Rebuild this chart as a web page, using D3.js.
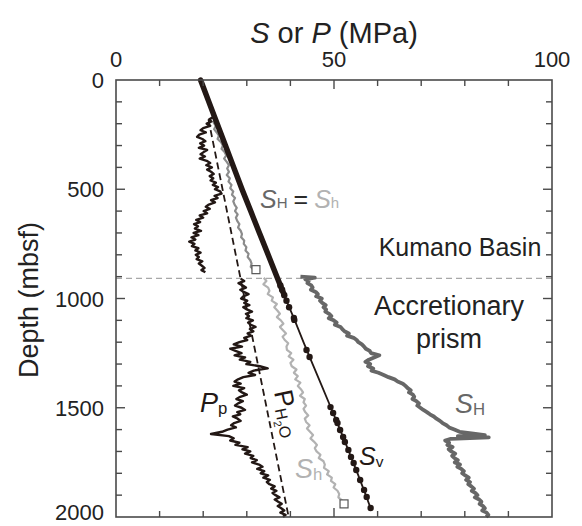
<!DOCTYPE html>
<html>
<head>
<meta charset="utf-8">
<script src="https://cdn.jsdelivr.net/npm/d3@7"></script>
<style>
  html, body { margin: 0; padding: 0; background: #fff; }
  svg { display: block; font-family: "Liberation Sans", Arial, Helvetica, sans-serif; }
</style>
</head>
<body>
<svg id="chart" width="582" height="526"></svg>
<script>
// Stress and pore pressure profiles versus depth below seafloor (MPa, mbsf)

// Vertical stress S_v
const svDepth = [0, 100, 200, 300, 400, 500, 600, 700, 800, 900, 980, 1000, 1100, 1200, 1300, 1400, 1500, 1600, 1700, 1800, 1900, 1960];
const svMPa   = [19.4, 21.3, 23.2, 25.1, 27.0, 28.9, 30.9, 32.9, 34.9, 36.9, 38.5, 38.9, 41.0, 43.0, 45.1, 47.2, 49.3, 51.4, 53.4, 55.4, 57.3, 58.4];
// Discrete S_v samples in the accretionary prism
const svDotDepth = [940, 960, 985, 1010, 1040, 1089, 1098, 1236, 1268, 1497, 1524, 1556, 1570, 1602, 1634, 1657, 1693, 1725, 1753, 1785, 1831, 1876, 1908, 1959];
const svDotMPa   = [37.7, 38.1, 38.6, 39.1, 39.7, 40.8, 40.9, 43.7, 44.4, 49.2, 49.8, 50.5, 50.8, 51.4, 52.1, 52.5, 53.3, 53.9, 54.5, 55.1, 56.0, 56.9, 57.5, 58.4];

// Hydrostatic pressure P_H2O
const phDepth = [180, 2000];
const phMPa   = [21.2, 39.6];

// Pore pressure P_p, Kumano Basin
const ppBasinDepth = [170, 180, 190, 200, 210, 220, 230, 240, 250, 260, 270, 280, 290, 300, 310, 320, 330, 340, 350, 360, 370, 380, 390, 400, 410, 420, 430, 440, 450, 460, 470, 480, 490, 500, 510, 520, 530, 540, 550, 560, 570, 580, 590, 600, 610, 620, 630, 640, 650, 660, 670, 680, 690, 700, 710, 720, 730, 740, 750, 760, 770, 780, 790, 800, 810, 820, 830, 840, 850, 860, 870, 880];
const ppBasinMPa   = [22.3, 21.4, 21.9, 20.8, 21.6, 20.0, 19.4, 20.6, 19.1, 18.6, 19.8, 20.5, 19.3, 20.2, 19.0, 20.9, 20.1, 19.4, 20.4, 19.2, 20.8, 21.6, 20.7, 22.0, 20.9, 21.8, 22.4, 21.5, 22.3, 21.7, 22.9, 22.2, 23.4, 22.7, 23.9, 24.2, 22.6, 23.3, 21.8, 22.7, 21.3, 20.6, 21.5, 20.1, 20.9, 19.2, 20.0, 18.4, 19.3, 17.9, 18.8, 18.1, 19.5, 17.8, 18.9, 17.3, 18.2, 16.8, 18.0, 17.4, 18.9, 18.2, 19.4, 18.3, 19.0, 18.5, 19.8, 19.0, 19.7, 20.3, 19.6, 20.5];

// Pore pressure P_p, accretionary prism
const ppPrismDepth = [910, 920, 930, 940, 950, 960, 970, 980, 990, 1000, 1010, 1020, 1030, 1040, 1050, 1060, 1070, 1080, 1090, 1100, 1110, 1120, 1130, 1140, 1150, 1160, 1170, 1180, 1190, 1200, 1210, 1220, 1230, 1240, 1250, 1260, 1270, 1280, 1290, 1300, 1310, 1320, 1330, 1340, 1350, 1360, 1370, 1380, 1390, 1400, 1410, 1420, 1430, 1440, 1450, 1460, 1470, 1480, 1490, 1500, 1510, 1520, 1530, 1540, 1550, 1560, 1570, 1580, 1590, 1600, 1610, 1620, 1630, 1640, 1650, 1660, 1670, 1680, 1690, 1700, 1710, 1720, 1730, 1740, 1750, 1760, 1770, 1780, 1790, 1800, 1810, 1820, 1830, 1840, 1850, 1860, 1870, 1880, 1890, 1900, 1910, 1920, 1930, 1940, 1950, 1960, 1970, 1980, 1990, 2000];
const ppPrismMPa   = [28.6, 29.4, 28.1, 29.0, 29.8, 28.5, 29.3, 30.4, 29.2, 28.7, 30.1, 29.4, 30.6, 29.2, 30.0, 31.2, 29.8, 30.5, 29.9, 31.4, 30.3, 30.9, 32.0, 30.7, 31.5, 30.2, 31.0, 29.4, 30.1, 28.3, 27.0, 28.9, 26.2, 27.4, 28.8, 27.2, 29.6, 28.4, 30.8, 29.9, 33.0, 34.8, 31.6, 30.4, 31.9, 29.2, 28.0, 27.2, 28.6, 26.9, 29.4, 28.2, 28.9, 30.0, 28.5, 27.6, 29.1, 28.0, 27.3, 28.8, 29.6, 27.8, 28.5, 26.8, 27.9, 28.6, 27.1, 26.4, 27.5, 25.6, 24.3, 21.8, 25.9, 27.0, 26.2, 28.3, 27.4, 30.2, 29.0, 30.8, 29.6, 31.5, 30.9, 32.3, 31.2, 32.8, 33.6, 32.4, 34.0, 33.2, 34.9, 33.8, 35.3, 34.6, 35.2, 36.4, 35.6, 36.8, 35.9, 36.6, 37.5, 36.4, 37.2, 38.0, 37.1, 37.9, 38.6, 37.7, 38.9, 38.3];

// S_H = S_h, Kumano Basin
const sBasinDepth = [180, 195, 210, 225, 240, 255, 270, 285, 300, 315, 330, 345, 360, 375, 390, 405, 420, 435, 450, 465, 480, 495, 510, 525, 540, 555, 570, 585, 600, 615, 630, 645, 660, 675, 690, 705, 720, 735, 750, 765, 780, 795, 810, 825, 840, 855, 870, 885];
const sBasinMPa   = [22.6, 22.4, 22.9, 22.5, 23.1, 23.6, 23.3, 24.1, 24.5, 24.2, 24.9, 25.3, 24.8, 25.4, 25.9, 25.5, 25.9, 25.4, 26.1, 25.8, 26.5, 26.2, 26.9, 26.6, 27.3, 26.9, 27.2, 27.7, 27.3, 27.9, 27.5, 27.8, 28.3, 28.0, 28.6, 28.9, 28.7, 29.4, 29.3, 29.9, 29.7, 30.4, 30.2, 30.8, 31.1, 30.9, 31.6, 32.0];

// Minimum horizontal stress S_h, accretionary prism
const shDepth = [905, 920, 935, 950, 965, 980, 995, 1010, 1025, 1040, 1055, 1070, 1085, 1100, 1115, 1130, 1145, 1160, 1175, 1190, 1205, 1220, 1235, 1250, 1265, 1280, 1295, 1310, 1325, 1340, 1355, 1370, 1385, 1400, 1415, 1430, 1445, 1460, 1475, 1490, 1505, 1520, 1535, 1550, 1565, 1580, 1595, 1610, 1625, 1640, 1655, 1670, 1685, 1700, 1715, 1730, 1745, 1760, 1775, 1790, 1805, 1820, 1835, 1850, 1865, 1880, 1895, 1910, 1925, 1940];
const shMPa   = [33.9, 34.5, 33.8, 34.9, 35.2, 34.8, 36.0, 35.7, 36.9, 36.3, 37.0, 37.6, 36.9, 37.8, 38.4, 37.6, 38.3, 39.0, 38.2, 38.7, 39.5, 39.1, 39.2, 40.2, 39.6, 40.7, 40.0, 40.3, 41.4, 40.8, 41.7, 41.1, 42.3, 41.7, 42.4, 42.9, 42.2, 43.3, 43.0, 43.6, 43.0, 43.4, 44.1, 43.3, 43.6, 44.4, 43.8, 44.5, 45.2, 44.6, 45.4, 46.1, 45.6, 46.0, 46.9, 46.5, 47.6, 47.9, 47.7, 48.8, 48.4, 49.5, 49.3, 50.3, 49.9, 50.8, 51.2, 51.0, 51.9, 52.3];

// Maximum horizontal stress S_H, accretionary prism
const sHDepth = [900, 905, 912, 920, 930, 940, 950, 960, 970, 980, 990, 1000, 1010, 1020, 1030, 1040, 1050, 1060, 1070, 1080, 1090, 1100, 1110, 1120, 1130, 1140, 1150, 1160, 1170, 1180, 1190, 1200, 1210, 1220, 1230, 1240, 1250, 1260, 1270, 1280, 1290, 1300, 1310, 1320, 1330, 1340, 1350, 1360, 1370, 1380, 1390, 1400, 1410, 1420, 1430, 1440, 1450, 1460, 1470, 1480, 1490, 1500, 1510, 1520, 1530, 1540, 1550, 1560, 1570, 1580, 1590, 1600, 1610, 1618, 1625, 1630, 1636, 1642, 1650, 1660, 1670, 1680, 1690, 1700, 1710, 1720, 1730, 1740, 1750, 1760, 1770, 1780, 1790, 1800, 1810, 1820, 1830, 1840, 1850, 1860, 1870, 1880, 1890, 1900, 1910, 1920, 1930, 1940, 1950, 1960, 1970, 1980, 1990, 2000];
const sHMPa   = [42.3, 45.6, 43.4, 44.2, 43.9, 44.8, 45.1, 44.7, 45.8, 46.3, 45.9, 47.2, 46.8, 47.3, 48.1, 47.6, 48.2, 48.0, 48.9, 49.4, 48.8, 49.9, 50.6, 50.2, 51.5, 51.9, 52.4, 53.4, 53.0, 54.5, 55.2, 55.6, 56.4, 56.9, 57.3, 58.2, 58.5, 60.4, 59.2, 58.0, 57.2, 58.3, 57.8, 59.0, 58.6, 60.2, 61.4, 62.5, 63.9, 64.6, 65.8, 66.4, 66.9, 67.6, 67.2, 68.1, 68.4, 68.0, 68.9, 69.5, 69.1, 69.8, 70.5, 71.3, 72.0, 72.9, 73.5, 74.3, 74.9, 75.8, 76.4, 77.6, 78.8, 82.0, 84.6, 78.4, 85.5, 76.8, 75.5, 76.4, 76.0, 77.2, 76.3, 76.9, 77.8, 77.1, 77.6, 78.4, 77.7, 78.9, 78.3, 79.2, 79.8, 79.4, 80.1, 80.9, 80.3, 81.2, 80.8, 81.5, 82.1, 81.6, 82.4, 82.9, 82.3, 83.3, 83.8, 83.4, 84.2, 84.6, 84.0, 85.0, 85.4, 84.9];

// Leak-off test points
const lotDepth = [868, 1940];
const lotMPa   = [32.1, 52.3];

// Basin / prism boundary depth
const boundaryDepth = [908];

// Axis ticks
const xMajorTicks = [0, 50, 100];
const xMinorTicks = [10, 20, 30, 40, 60, 70, 80, 90];
const yMajorTicks = [0, 500, 1000, 1500, 2000];
const yMinorTicks = [100, 200, 300, 400, 600, 700, 800, 900, 1100, 1200, 1300, 1400, 1600, 1700, 1800, 1900];

const zip = (d, v) => d.map((z, i) => ({ z, v: v[i] }));

const svg = d3.select("#chart");
const plotL = 116, plotR = 552, plotT = 80, plotB = 517;

const x = d3.scaleLinear().domain([0, 100]).range([plotL, plotR]);
const y = d3.scaleLinear().domain([0, 2000]).range([plotT, plotB]);

const frameColor = "#4a4a4a";
const inkColor = "#231815";
const darkGray = "#676767";
const lightGray = "#b2b2b2";
const midGray = "#8c8c8c";

const line = d3.line().x(d => x(d.v)).y(d => y(d.z));

// Boundary between Kumano Basin and accretionary prism
svg.selectAll("line.boundary").data(boundaryDepth).join("line")
  .attr("class", "boundary")
  .attr("x1", plotL).attr("x2", plotR)
  .attr("y1", d => y(d)).attr("y2", d => y(d))
  .attr("stroke", "#a8a8a8").attr("stroke-width", 1.4)
  .attr("stroke-dasharray", "6,4");

// Horizontal stresses
svg.append("path").datum(zip(sHDepth, sHMPa)).attr("d", line)
  .attr("fill", "none").attr("stroke", darkGray).attr("stroke-width", 3.8)
  .attr("stroke-linejoin", "round");
svg.append("path").datum(zip(shDepth, shMPa)).attr("d", line)
  .attr("fill", "none").attr("stroke", lightGray).attr("stroke-width", 2.2)
  .attr("stroke-linejoin", "round");
svg.append("path").datum(zip(sBasinDepth, sBasinMPa)).attr("d", line)
  .attr("fill", "none").attr("stroke", midGray).attr("stroke-width", 2.2)
  .attr("stroke-linejoin", "round");

// Hydrostatic pressure
svg.append("path").datum(zip(phDepth, phMPa)).attr("d", line)
  .attr("fill", "none").attr("stroke", inkColor).attr("stroke-width", 1.8)
  .attr("stroke-dasharray", "7,4");

// Pore pressure
[zip(ppBasinDepth, ppBasinMPa), zip(ppPrismDepth, ppPrismMPa)].forEach(seg => {
  svg.append("path").datum(seg).attr("d", line)
    .attr("fill", "none").attr("stroke", inkColor).attr("stroke-width", 2.4)
    .attr("stroke-linejoin", "round");
});

// Vertical stress: dense upper part drawn heavy, sparse lower part with samples
const svAll = zip(svDepth, svMPa);
svg.append("path").datum(svAll.filter(d => d.z <= 980)).attr("d", line)
  .attr("fill", "none").attr("stroke", inkColor).attr("stroke-width", 5.5)
  .attr("stroke-linecap", "round");
svg.append("path").datum(svAll.filter(d => d.z >= 980)).attr("d", line)
  .attr("fill", "none").attr("stroke", inkColor).attr("stroke-width", 1.8);
svg.selectAll("circle.sv").data(zip(svDotDepth, svDotMPa)).join("circle")
  .attr("class", "sv")
  .attr("cx", d => x(d.v)).attr("cy", d => y(d.z)).attr("r", 3.2)
  .attr("fill", inkColor);

// Leak-off test markers
svg.selectAll("rect.lot").data(zip(lotDepth, lotMPa)).join("rect")
  .attr("class", "lot")
  .attr("x", d => x(d.v) - 4).attr("y", d => y(d.z) - 4)
  .attr("width", 8).attr("height", 8)
  .attr("fill", "#fff").attr("stroke", "#555").attr("stroke-width", 1.2);

// Frame and inward ticks
svg.append("rect").attr("x", plotL).attr("y", plotT)
  .attr("width", plotR - plotL).attr("height", plotB - plotT)
  .attr("fill", "none").attr("stroke", frameColor).attr("stroke-width", 1.6);

const tickG = svg.append("g").attr("stroke", frameColor).attr("stroke-width", 1.4);
const xTicks = xMajorTicks.filter(t => t > 0 && t < 100).map(t => ({ t, len: 9 }))
  .concat(xMinorTicks.map(t => ({ t, len: 6 })));
xTicks.forEach(d => {
  tickG.append("line").attr("x1", x(d.t)).attr("x2", x(d.t)).attr("y1", plotT).attr("y2", plotT + d.len);
  tickG.append("line").attr("x1", x(d.t)).attr("x2", x(d.t)).attr("y1", plotB).attr("y2", plotB - d.len);
});
const yTicks = yMajorTicks.filter(t => t > 0 && t < 2000).map(t => ({ t, len: 9 }))
  .concat(yMinorTicks.map(t => ({ t, len: 6 })));
yTicks.forEach(d => {
  tickG.append("line").attr("x1", plotL).attr("x2", plotL + d.len).attr("y1", y(d.t)).attr("y2", y(d.t));
  tickG.append("line").attr("x1", plotR).attr("x2", plotR - d.len).attr("y1", y(d.t)).attr("y2", y(d.t));
});

// Tick labels
svg.selectAll("text.xl").data(xMajorTicks).join("text")
  .attr("class", "xl")
  .attr("x", d => x(d)).attr("y", 67)
  .attr("text-anchor", "middle").attr("font-size", 22).attr("fill", "#222")
  .text(d => d);
svg.selectAll("text.yl").data(yMajorTicks).join("text")
  .attr("class", "yl")
  .attr("x", 104).attr("y", d => Math.min(y(d) + 8, 520))
  .attr("text-anchor", "end").attr("font-size", 22).attr("fill", "#222")
  .text(d => d);

// Axis titles
const xt = svg.append("text").attr("x", 334).attr("y", 43)
  .attr("text-anchor", "middle").attr("font-size", 29).attr("fill", "#222");
xt.append("tspan").attr("font-style", "italic").text("S");
xt.append("tspan").text(" or ");
xt.append("tspan").attr("font-style", "italic").text("P");
xt.append("tspan").text(" (MPa)");

svg.append("text").attr("transform", "translate(38,300) rotate(-90)")
  .attr("text-anchor", "middle").attr("font-size", 27).attr("fill", "#222")
  .text("Depth (mbsf)");

// Curve labels
function subLabel(px, py, main, sub, color, size) {
  const t = svg.append("text").attr("x", px).attr("y", py)
    .attr("font-size", size).attr("fill", color);
  t.append("tspan").attr("font-style", "italic").text(main);
  t.append("tspan").attr("font-size", size * 0.62).attr("dy", size * 0.06).text(sub);
  return t;
}

// S_H = S_h
const eq = svg.append("text").attr("x", 260).attr("y", 208).attr("font-size", 25);
eq.append("tspan").attr("font-style", "italic").attr("fill", darkGray).text("S");
eq.append("tspan").attr("font-size", 15).attr("fill", darkGray).text("H");
eq.append("tspan").attr("fill", "#2a2a2a").attr("dx", 6).text("=");
eq.append("tspan").attr("font-style", "italic").attr("fill", lightGray).attr("dx", 6).text("S");
eq.append("tspan").attr("font-size", 15).attr("fill", lightGray).text("h");

subLabel(455, 413, "S", "H", darkGray, 27);
subLabel(359, 465, "S", "v", inkColor, 25);
subLabel(295, 478, "S", "h", lightGray, 27);
subLabel(200, 412, "P", "p", inkColor, 27);

// P_H2O, set along the hydrostatic line
const ph = svg.append("text").attr("transform", "translate(274,392) rotate(78)")
  .attr("font-size", 26).attr("fill", inkColor);
ph.append("tspan").text("P");
ph.append("tspan").attr("font-size", 16).attr("dy", 3).text("H");
ph.append("tspan").attr("font-size", 11).attr("dy", 4).text("2");
ph.append("tspan").attr("font-size", 16).attr("dy", -4).text("O");

// Unit names
svg.append("text").attr("x", 460).attr("y", 256).attr("text-anchor", "middle")
  .attr("font-size", 25).attr("fill", "#222").text("Kumano Basin");
svg.append("text").attr("x", 449).attr("y", 315).attr("text-anchor", "middle")
  .attr("font-size", 27).attr("fill", "#222").text("Accretionary");
svg.append("text").attr("x", 449).attr("y", 348).attr("text-anchor", "middle")
  .attr("font-size", 27).attr("fill", "#222").text("prism");
</script>
</body>
</html>
